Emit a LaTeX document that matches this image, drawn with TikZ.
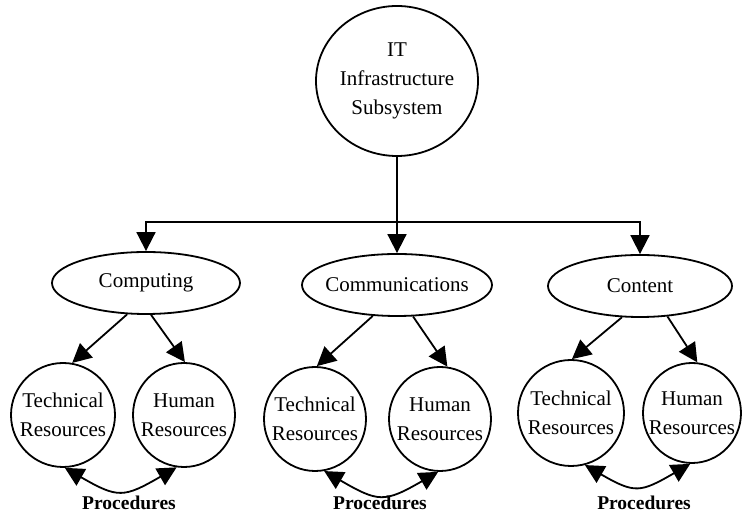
\documentclass[tikz,border=0pt]{standalone}
\usepackage{fontspec}
\setmainfont{Liberation Serif}
\usetikzlibrary{arrows.meta,shapes.geometric}
\begin{document}
\begin{tikzpicture}[x=1pt,y=1pt,
  every node/.style={font=\fontsize{21}{29}\selectfont},
  oval/.style={draw, ellipse, line width=1.8pt, inner xsep=-30pt, inner ysep=0pt, align=center, minimum height=62pt},
  res/.style={draw, ellipse, line width=1.8pt, inner xsep=-22pt, inner ysep=-6pt, align=center, minimum width=102pt, minimum height=104pt},
  arr/.style={line width=1.8pt, -{Triangle[length=19pt,width=19pt]}},
  darr/.style={line width=1.8pt, {Triangle[length=19pt,width=19pt]}-{Triangle[length=19pt,width=19pt]}},
  proc/.style={font=\fontsize{19.5}{24}\selectfont\bfseries}
]
\useasboundingbox (0,0) rectangle (742,516);
% top
\node[draw, ellipse, line width=1.8pt, align=center, minimum width=162pt, minimum height=150pt, inner xsep=-12pt, inner ysep=-12pt] (top) at (397,435) {IT\\Infrastructure\\Subsystem};
% level 2
\node[oval, minimum width=188pt] (comp) at (146,233) {Computing};
\node[oval, minimum width=190pt] (comm) at (397,231) {Communications};
\node[oval, minimum width=184pt] (cont) at (640,230) {Content};
\coordinate (bar) at (397,294);
\draw[arr] (top.south) -- (comm.north);
\draw[arr] (comm.north |- bar) -| (comp.north);
\draw[arr] (comm.north |- bar) -| (cont.north);
% level 3
\node[res, minimum width=104pt] (tr1) at (63,101) {Technical\\Resources};
\node[res] (hr1) at (184,101) {Human\\Resources};
\node[res] (tr2) at (315,97) {Technical\\Resources};
\node[res] (hr2) at (440,97) {Human\\Resources};
\node[res, minimum width=106pt, minimum height=106pt] (tr3) at (571,103) {Technical\\Resources};
\node[res, minimum width=98pt, minimum height=100pt] (hr3) at (692,103) {Human\\Resources};
\draw[arr] (comp.239) -- (tr1.80);
\draw[arr] (comp.279) -- (hr1.89);
\draw[arr] (comm.232) -- (tr2.88);
\draw[arr] (comm.297) -- (hr2.82);
\draw[arr] (cont.240) -- (tr3.89);
\draw[arr] (cont.312) -- (hr3.84);
% procedures
\draw[darr] (tr1.272) to[out=-30,in=-150,looseness=1.4] (hr1.262);
\draw[darr] (tr2.280) to[out=-30,in=-150,looseness=1.4] (hr2.268);
\draw[darr] (tr3.285) to[out=-30,in=-150,looseness=1.4] (hr3.268);
\node[proc] (p1) at (129,13) {Procedures};
\node[proc] (p2) at (380,13) {Procedures};
\node[proc] (p3) at (644,13) {Procedures};
\end{tikzpicture}
\end{document}
